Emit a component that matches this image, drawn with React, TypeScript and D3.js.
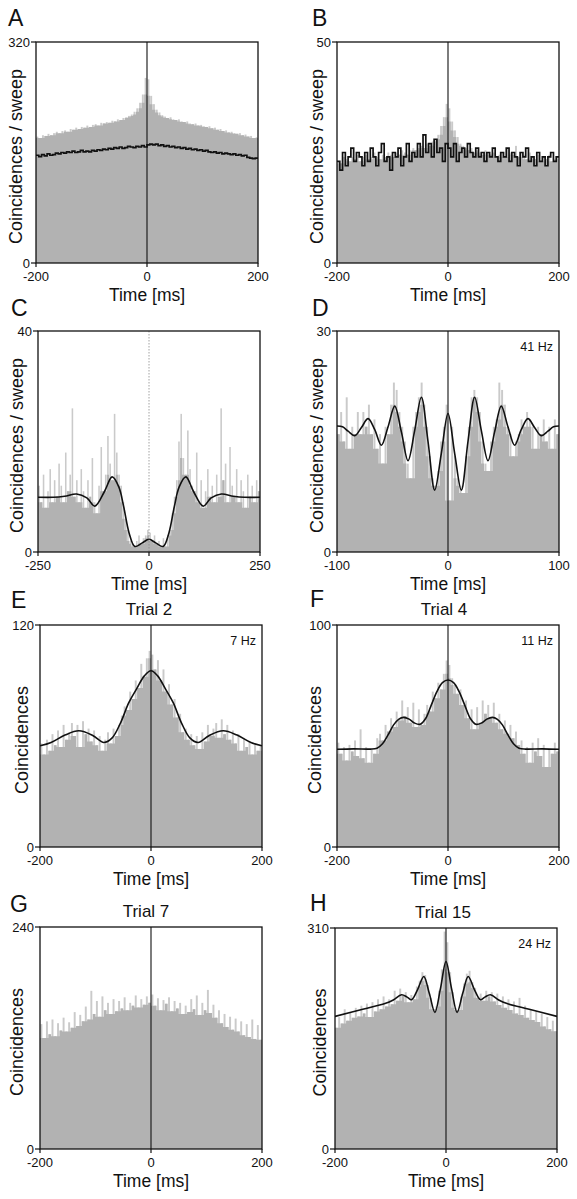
import React from 'react';
import * as d3 from 'd3';

// ---------- Data ----------
const xTicksA = [-200, 0, 200];
const xTicksC = [-250, 0, 250];
const xTicksD = [-100, 0, 100];

const binsA = [183,181,185,184,187,185,188,190,188,191,192,190,194,193,196,194,197,196,199,197,200,201,199,203,202,204,203,206,205,208,207,210,211,213,215,219,224,232,244,268,266,242,230,222,218,214,212,210,211,208,207,208,205,204,205,202,201,202,199,200,198,197,198,195,196,193,194,191,192,189,190,188,187,188,185,186,183,184,181,182];
const shuffleA = [156,154,157,155,158,156,157,159,158,160,159,161,160,162,160,161,163,161,162,161,163,162,164,163,165,164,166,165,167,166,168,166,167,169,168,167,169,168,170,168,171,172,171,172,170,171,169,170,168,169,167,168,166,167,165,166,164,165,163,164,162,163,161,160,161,159,160,158,159,158,157,158,156,157,155,156,153,152,151,152];

const binsB = [23,22.5,24,23.5,23,24,23.5,24.5,23,24,24.5,23.5,24,25,24,23.5,24.5,24,25,24.5,24,25,24.5,25.5,25,24.5,25.5,26,25.5,26,26.5,26,27,26.5,27.5,28,29,31,33,36,35,32,30,28.5,27,26.5,26,25.5,26,25,25.5,25,24.5,25.5,25,24.5,25,24,24.5,25,24,26,25,24.5,26.5,24,25,24.5,23.5,25,24,23.5,24.5,23,24,23.5,24.5,23,23.5,24];
const shuffleB = [23,21,25,22,24,26,23,25,24,22,25,23,26,24,22,25,27,23,24,21,25,24,26,22,24,27,23,25,24,27,24,29,25,27,24,28,25,26,23,27,26,24,27,23,25,26,24,27,25,24,26,24,25,23,25,24,26,24,23,25,24,26,23,25,24,22,25,24,26,23,24,22,25,23,24,22,24,25,23,24];

const binsC = [12,9,14,8,11,15,9,13,10,16,12,9,18,11,14,26,10,13,9,15,11,8,13,10,17,9,7,12,19,11,14,21,16,13,25,18,14,12,9,6,4,2,1.5,1,2,3,1.5,2.5,3,4,3.5,2,3,1.5,2,1,2.5,1,3,4,7,10,13,20,25,17,14,22,15,12,11,18,9,13,8,11,15,10,12,9,14,10,26,13,16,9,19,12,10,15,9,13,11,8,14,10,12,9,13,11];
const fitC_t = [-250,-215,-190,-163,-140,-122,-100,-83,-68,-57,-45,-32,-16,0,16,32,45,57,68,83,100,122,140,163,190,215,250];
const fitC_v = [9.9,9.9,10.1,10.5,9.8,8.3,11.0,13.6,11.8,8.2,3.5,1.0,1.6,2.3,1.6,1.0,3.5,8.2,11.8,13.6,11.0,8.3,9.8,10.5,10.1,9.9,9.9];

const binsD = [16,19,15,21,14,17,16,19,16,19,17,20,16,18,14,16,12,17,16,20,23,22,19,17,15,12,10,17,19,21,23,20,17,13,10,9,11,15,17,20,7,17,13,10,9,8,13,17,21,22,21,19,15,12,11,15,17,18,23,22,20,17,16,13,15,16,18,17,19,18,17,14,17,16,18,15,17,14,18,16];
const fitD_t = [-100,-95,-90,-84,-78,-72,-66,-60,-54,-48,-42,-36,-30,-24,-18,-12,-6,0,6,12,18,24,30,36,42,48,54,60,66,72,78,84,90,95,100];
const fitD_v = [17.1,17.0,16.4,15.8,16.9,18.1,16.6,14.5,17.0,19.8,16.3,12.4,16.5,21.0,15.0,8.4,13.4,18.8,13.4,8.4,15.0,21.0,16.5,12.4,16.3,19.8,17.0,14.5,16.6,18.1,16.9,15.8,16.4,17.0,17.1];

const binsE = [56,50,58,52,61,55,63,54,66,58,62,67,60,66,54,68,61,64,57,63,55,60,52,58,62,56,64,60,66,71,76,74,84,80,90,86,99,92,102,106,104,96,101,90,96,84,88,77,80,70,72,62,64,58,61,55,60,53,62,57,66,60,64,67,59,69,61,66,58,63,56,61,52,59,54,57,50,56,52,55];
const fitE_t = [-200,-180,-155,-130,-105,-85,-70,-55,-40,-25,-12,0,12,25,40,55,70,85,105,130,155,180,200];
const fitE_v = [54.7,56.5,60.5,62.8,60.3,56.5,59,67,78,86,92.5,95.3,92.5,86,78,67,59,56.5,60.3,62.8,60.5,56.5,54.7];

const binsF = [47,42,45,39,46,43,48,41,53,40,45,38,44,42,49,51,48,55,52,58,54,61,57,66,59,63,56,65,54,62,55,60,64,61,70,67,74,71,78,84,82,76,73,69,71,64,66,58,62,53,63,56,66,60,64,58,65,56,60,53,57,51,55,49,52,46,48,42,45,38,47,43,49,41,46,36,44,42,47,43];
const fitF_t = [-200,-170,-140,-128,-118,-108,-98,-89,-80,-70,-60,-50,-40,-30,-20,-10,0,10,20,30,40,50,60,70,80,89,98,108,118,128,140,170,200];
const fitF_v = [44,44.2,44.1,44.5,46.5,50.5,55,57.5,58.4,57.6,55.8,55.3,58,64,70,74,75.2,74,70,64,58,55.3,55.8,57.6,58.4,57.5,55,50.5,46.5,44.5,44.1,44.2,44];

const binsG = [135,120,138,124,140,122,136,128,142,127,137,131,148,133,145,138,154,140,171,146,160,143,165,150,158,146,162,149,160,152,164,150,158,155,166,153,162,156,165,158,167,155,163,150,161,157,164,149,160,152,158,146,155,148,162,151,166,145,158,150,172,147,156,142,150,136,146,132,143,129,141,127,138,123,135,121,140,119,134,118];

const binsH = [170,185,176,196,180,192,184,198,186,201,190,204,185,206,193,210,196,214,200,210,203,222,208,225,215,220,206,216,210,228,236,248,244,230,212,196,200,222,252,305,290,248,220,198,195,214,232,246,250,234,226,212,218,208,222,214,220,207,218,202,214,198,210,195,207,190,212,188,201,184,196,181,193,178,190,172,185,168,180,165];
const fitH_t = [-200,-150,-110,-95,-80,-70,-62,-51,-40,-30,-20,-10,0,10,20,30,40,51,62,70,80,95,110,150,200];
const fitH_v = [186,196,204,209,216.4,213,209.4,224,242,218,191.6,225,263,225,191.6,218,242,224,209.4,213,216.4,209,204,196,186];

// ---------- Layout ----------
type Cfg = {
  letter: string; lx: number; ly: number;
  x0: number; x1: number; y0: number; y1: number;
  xDomain: [number, number]; yMax: number; xTicks: number[];
  bins: number[]; shuffle?: number[]; fitT?: number[]; fitV?: number[];
  yTitle: string; yTitleX: number; title?: string; titleX?: number; hz?: string;
  dottedZero?: boolean;
};

const panels: Cfg[] = [
  { letter: 'A', lx: 8, ly: 26, x0: 36, x1: 258, y0: 42, y1: 263, xDomain: [-200, 200], yMax: 320, xTicks: xTicksA, bins: binsA, shuffle: shuffleA, yTitle: 'Coincidences / sweep', yTitleX: 22 },
  { letter: 'B', lx: 312, ly: 26, x0: 337, x1: 559, y0: 42, y1: 263, xDomain: [-200, 200], yMax: 50, xTicks: xTicksA, bins: binsB, shuffle: shuffleB, yTitle: 'Coincidences / sweep', yTitleX: 323 },
  { letter: 'C', lx: 11, ly: 316, x0: 38, x1: 260, y0: 331, y1: 552, xDomain: [-250, 250], yMax: 40, xTicks: xTicksC, bins: binsC, fitT: fitC_t, fitV: fitC_v, yTitle: 'Coincidences / sweep', yTitleX: 23, dottedZero: true },
  { letter: 'D', lx: 312, ly: 316, x0: 337, x1: 559, y0: 331, y1: 552, xDomain: [-100, 100], yMax: 30, xTicks: xTicksD, bins: binsD, fitT: fitD_t, fitV: fitD_v, yTitle: 'Coincidences / sweep', yTitleX: 323, hz: '41 Hz' },
  { letter: 'E', lx: 11, ly: 608, x0: 40, x1: 262, y0: 625, y1: 847, xDomain: [-200, 200], yMax: 120, xTicks: xTicksA, bins: binsE, fitT: fitE_t, fitV: fitE_v, yTitle: 'Coincidences', yTitleX: 28, title: 'Trial 2', titleX: 149, hz: '7 Hz' },
  { letter: 'F', lx: 310, ly: 607, x0: 337, x1: 559, y0: 625, y1: 847, xDomain: [-200, 200], yMax: 100, xTicks: xTicksA, bins: binsF, fitT: fitF_t, fitV: fitF_v, yTitle: 'Coincidences', yTitleX: 321, title: 'Trial 4', titleX: 444, hz: '11 Hz' },
  { letter: 'G', lx: 10, ly: 912, x0: 40, x1: 262, y0: 927, y1: 1149, xDomain: [-200, 200], yMax: 240, xTicks: xTicksA, bins: binsG, yTitle: 'Coincidences', yTitleX: 23, title: 'Trial 7', titleX: 146 },
  { letter: 'H', lx: 310, ly: 911, x0: 335, x1: 557, y0: 928, y1: 1149, xDomain: [-200, 200], yMax: 310, xTicks: xTicksA, bins: binsH, fitT: fitH_t, fitV: fitH_v, yTitle: 'Coincidences', yTitleX: 326, title: 'Trial 15', titleX: 443, hz: '24 Hz' },
];

const FONT = '"Liberation Sans", Arial, Helvetica, sans-serif';
const BODY = '#b2b2b2';
const SPIKE = '#cacaca';

function Panel({ c, idx }: { c: Cfg; idx: number }) {
  const x = d3.scaleLinear().domain(c.xDomain).range([c.x0, c.x1]);
  const y = d3.scaleLinear().domain([0, c.yMax]).range([c.y1, c.y0]);
  const n = c.bins.length;
  const bw = (c.xDomain[1] - c.xDomain[0]) / n;
  const starts = c.bins.map((_, i) => c.xDomain[0] + i * bw);
  const floor = c.bins.map((_, i) => d3.min(c.bins.slice(Math.max(0, i - 1), i + 2)) as number);

  const stepPts = (vals: number[]) => {
    const pts: [number, number][] = vals.map((v, i) => [starts[i], v]);
    pts.push([c.xDomain[1], vals[vals.length - 1]]);
    return pts;
  };

  const area = d3.area<[number, number]>()
    .x(d => x(d[0])).y0(y(0)).y1(d => y(d[1]))
    .curve(d3.curveStepAfter);
  const stepLine = d3.line<[number, number]>()
    .x(d => x(d[0])).y(d => y(d[1]))
    .curve(d3.curveStepAfter);
  const fitLine = d3.line<[number, number]>()
    .x(d => x(d[0])).y(d => y(d[1]))
    .curve(d3.curveCatmullRom.alpha(0.5));

  const clipId = `clip${idx}`;
  const xMid = (c.xDomain[0] + c.xDomain[1]) / 2;
  const yMid = (c.y0 + c.y1) / 2 + 4;

  return (
    <g>
      <defs>
        <clipPath id={clipId}>
          <rect x={c.x0} y={c.y0} width={c.x1 - c.x0} height={c.y1 - c.y0} />
        </clipPath>
      </defs>
      <g clipPath={`url(#${clipId})`}>
        {c.bins.map((v, i) => (
          <rect key={i}
            x={x(starts[i] + bw * 0.15)}
            width={x(starts[i] + bw * 0.85) - x(starts[i] + bw * 0.15)}
            y={y(v)} height={y(0) - y(v)} fill={SPIKE} />
        ))}
        <path d={area(stepPts(floor)) || ''} fill={BODY} />
        {c.shuffle && (
          <path d={stepLine(stepPts(c.shuffle)) || ''} fill="none" stroke="#111" strokeWidth={1.7} />
        )}
        {c.fitT && c.fitV && (
          <path d={fitLine(c.fitT.map((t, i) => [t, c.fitV![i]] as [number, number])) || ''}
            fill="none" stroke="#111" strokeWidth={1.6} />
        )}
      </g>
      {/* zero line */}
      <line x1={x(0)} x2={x(0)} y1={c.y0} y2={c.y1}
        stroke={c.dottedZero ? '#8a8a8a' : '#111'}
        strokeWidth={c.dottedZero ? 0.8 : 1.1}
        strokeDasharray={c.dottedZero ? '1.5,1.5' : undefined} />
      {/* frame */}
      <rect x={c.x0} y={c.y0} width={c.x1 - c.x0} height={c.y1 - c.y0}
        fill="none" stroke="#111" strokeWidth={1.3} />
      {/* y ticks */}
      {[0, c.yMax].map(v => (
        <g key={v}>
          <line x1={c.x0 - 5} x2={c.x0} y1={y(v)} y2={y(v)} stroke="#111" strokeWidth={1.2} />
          <text x={c.x0 - 6} y={y(v) + 4.5} textAnchor="end" fontSize={13} fontFamily={FONT} fill="#111">{v}</text>
        </g>
      ))}
      {/* x ticks */}
      {c.xTicks.map(v => (
        <g key={v}>
          <line x1={x(v)} x2={x(v)} y1={c.y1} y2={c.y1 + 4} stroke="#111" strokeWidth={1.2} />
          <text x={x(v)} y={c.y1 + 18} textAnchor="middle" fontSize={13} fontFamily={FONT} fill="#111">{v}</text>
        </g>
      ))}
      <text x={x(xMid)} y={c.y1 + 37.5} textAnchor="middle" fontSize={17.5} fontFamily={FONT} fill="#111">Time [ms]</text>
      <text transform={`translate(${c.yTitleX},${yMid}) rotate(-90)`} textAnchor="middle" fontSize={18} fontFamily={FONT} fill="#111">{c.yTitle}</text>
      <text x={c.lx} y={c.ly} fontSize={23} fontFamily={FONT} fill="#111">{c.letter}</text>
      {c.title && (
        <text x={c.titleX} y={c.y0 - 10} textAnchor="middle" fontSize={17} fontFamily={FONT} fill="#111">{c.title}</text>
      )}
      {c.hz && (
        <text x={c.x1 - 6} y={c.y0 + 20} textAnchor="end" fontSize={12.5} fontFamily={FONT} fill="#111">{c.hz}</text>
      )}
    </g>
  );
}

export default function App() {
  return (
    <svg width={577} height={1199} viewBox="0 0 577 1199"
      style={{ position: 'absolute', left: 0, top: 0, background: '#fff' }}>
      <rect x={0} y={0} width={577} height={1199} fill="#fff" />
      {panels.map((c, i) => <Panel key={c.letter} c={c} idx={i} />)}
    </svg>
  );
}
